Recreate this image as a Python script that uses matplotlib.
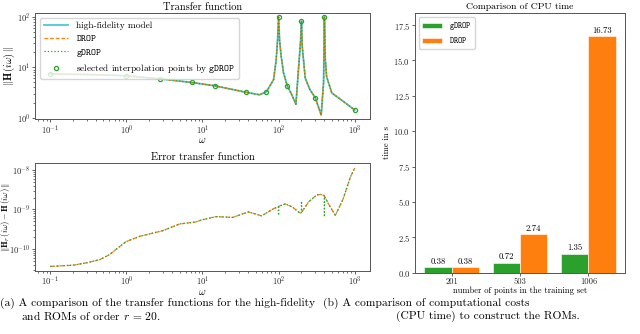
import numpy as np
import matplotlib
matplotlib.use("Agg")
import matplotlib.pyplot as plt

plt.rcParams['font.family'] = ['cmr10', 'DejaVu Serif']
plt.rcParams['mathtext.fontset'] = 'cm'
plt.rcParams['axes.formatter.use_mathtext'] = True
plt.rcParams['axes.unicode_minus'] = False

# transfer function |H(iw)|
tf_omega = [0.1, 0.3, 1, 2.8, 7.2, 14.5, 37, 56, 69, 86, 93, 97, 100, 103, 108,
            116, 130, 150, 169, 185, 195, 200, 205, 224, 258, 303, 363, 390,
            400, 410, 427, 500, 710, 1000]
tf_mag = [7.4, 7.2, 6.8, 5.9, 5.0, 4.3, 3.2, 2.85, 3.25, 5.7, 14, 35, 100, 35, 17,
          7.8, 4.3, 2.8, 1.85, 12, 35, 82, 25, 6.1, 3.6, 2.5, 1.13, 5,
          100, 15, 6.6, 3.1, 2.1, 1.42]

# interpolation points selected by gDROP
pts_omega = [0.1, 1, 2.8, 7.2, 14.5, 37, 69, 100, 130, 200, 303, 400, 1000]
pts_mag = [7.4, 6.8, 5.9, 5.0, 4.3, 3.2, 3.25, 100, 4.3, 82, 2.5, 100, 1.42]

# error transfer function
err_omega = [0.1, 0.2, 0.3, 0.45, 0.6, 0.8, 1, 1.5, 2, 3, 5, 8, 10, 15, 25, 40,
             60, 86, 99, 100, 101, 122, 150, 192, 199, 200, 201, 250, 318, 360,
             398, 400, 402, 450, 556, 700, 875, 1000]
err_drop = [3.63e-11, 3.9e-11, 4.47e-11, 5.4e-11, 7.2e-11, 1.12e-10, 1.55e-10,
            2.1e-10, 2.4e-10, 2.9e-10, 4.3e-10, 4.8e-10, 5.5e-10, 6.6e-10,
            6.3e-10, 8.7e-10, 6.9e-10, 1.05e-9, 1.17e-9, 1.2e-9, 1.21e-9,
            1.38e-9, 1.17e-9, 8.1e-10, 8.4e-10, 8.5e-10, 8.6e-10, 1.58e-9,
            2.34e-9, 2.4e-9, 2.25e-9, 2.19e-9, 2.15e-9, 1.41e-9, 7.1e-10,
            1.78e-9, 6.5e-9, 1.12e-8]
err_gdrop = [3.63e-11, 3.9e-11, 4.47e-11, 5.4e-11, 7.2e-11, 1.12e-10, 1.55e-10,
             2.1e-10, 2.4e-10, 2.9e-10, 4.3e-10, 4.8e-10, 5.5e-10, 6.6e-10,
             6.3e-10, 8.7e-10, 6.9e-10, 1.05e-9, 1.17e-9, 7.1e-10, 1.21e-9,
             1.38e-9, 1.17e-9, 8.1e-10, 8.4e-10, 1.62e-9, 8.6e-10, 1.58e-9,
             2.34e-9, 2.4e-9, 2.25e-9, 6.5e-10, 2.15e-9, 1.41e-9, 7.1e-10,
             1.78e-9, 6.5e-9, 1.12e-8]

# CPU times
n_points = ['201', '503', '1006']
t_gdrop = [0.38, 0.72, 1.35]
t_drop = [0.38, 2.74, 16.73]

spine_c = '#555555'
fs_tick = 6.1
fs_title = 7.5


def style_axes(ax):
    for s in ax.spines.values():
        s.set_color(spine_c)
        s.set_linewidth(0.7)
    ax.tick_params(labelsize=fs_tick, length=2, width=0.5, colors='#222222', pad=1.2)
    ax.tick_params(which='minor', length=1.2, width=0.4)


fig = plt.figure(figsize=(6.4, 3.34), dpi=100)
ax1 = fig.add_axes([0.0547, 0.643, 0.5233, 0.318])
ax2 = fig.add_axes([0.0547, 0.189, 0.5233, 0.323])
ax3 = fig.add_axes([0.648, 0.1835, 0.329, 0.7775])

# transfer function
ax1.loglog(tf_omega, tf_mag, color='#17becf', lw=1.3, alpha=0.8, label='high-fidelity model')
ax1.loglog(tf_omega, tf_mag, color='#ff7f0e', lw=0.9, ls='--', dashes=(3, 1.5), label=r'$\mathtt{DROP}$')
ax1.loglog(tf_omega, tf_mag, color='#2ca02c', lw=0.9, ls=':', label=r'$\mathtt{gDROP}$')
ax1.loglog(pts_omega, pts_mag, ls='none', marker='o', ms=3, mfc='none', mec='#2ca02c', mew=0.9,
           label=r'selected interpolation points by $\mathtt{gDROP}$')
ax1.set_ylim(0.93, 120)
ax1.set_title('Transfer function', fontsize=fs_title, pad=2)
ax1.set_xlabel(r'$\omega$', fontsize=fs_title, labelpad=-0.8)
ax1.set_ylabel(r'$\|\mathbf{H}\,(i\omega)\,\|$', fontsize=fs_title)
ax1.yaxis.set_label_coords(-0.055, 0.5)
ax1.legend(loc='upper left', fontsize=6.8, frameon=True, handlelength=2.6,
           borderpad=0.4, labelspacing=0.35, framealpha=0.8, edgecolor='#cccccc')
style_axes(ax1)

# error transfer function
ax2.loglog(err_omega, err_drop, color='#ff7f0e', lw=0.9, ls='--', dashes=(3, 1.5))
ax2.loglog(err_omega, err_gdrop, color='#2ca02c', lw=0.9, ls=':')
ax2.set_ylim(2.8e-11, 1.5e-8)
ax2.set_title('Error transfer function', fontsize=fs_title, pad=2)
ax2.set_xlabel(r'$\omega$', fontsize=fs_title, labelpad=-0.8)
ax2.set_ylabel(r'$\|\mathbf{H}_r\,(i\omega)-\mathbf{H}\,(i\omega)\,\|$', fontsize=6.2)
ax2.yaxis.set_label_coords(-0.07, 0.5)
style_axes(ax2)

# CPU time bars
x = np.arange(len(n_points))
w = 0.4
b1 = ax3.bar(x - w / 2, t_gdrop, w, color='#2ca02c', edgecolor='white', lw=0.4, label=r'$\mathtt{gDROP}$')
b2 = ax3.bar(x + w / 2, t_drop, w, color='#ff7f0e', edgecolor='white', lw=0.4, label=r'$\mathtt{DROP}$')
ax3.bar_label(b1, fmt='%.2f', fontsize=6.3, padding=1)
ax3.bar_label(b2, fmt='%.2f', fontsize=6.3, padding=1)
ax3.set_xticks(x)
ax3.set_xticklabels(n_points)
ax3.set_ylim(0, 18.35)
ax3.set_yticks(np.arange(0, 17.6, 2.5))
ax3.set_title('Comparison of CPU time', fontsize=fs_title - 0.5, pad=3)
ax3.set_xlabel('number of points in the training set', fontsize=fs_tick, labelpad=1)
ax3.set_ylabel('time in s', fontsize=fs_tick, labelpad=2)
ax3.legend(loc='upper left', fontsize=5.8, handlelength=2.5, borderpad=0.4,
           labelspacing=0.4, framealpha=0.8, edgecolor='#cccccc')
style_axes(ax3)

# captions
cap = 8.3
fig.text(0.0, 1 - 303 / 334, '(a) A comparison of the transfer functions for the high-fidelity',
         fontsize=cap, va='center', ha='left')
fig.text(20.7 / 640, 1 - 316 / 334, r'and ROMs of order $r$ = 20.', fontsize=cap, va='center', ha='left')
fig.text(322.7 / 640, 1 - 303 / 334, '(b) A comparison of computational costs',
         fontsize=cap, va='center', ha='left')
fig.text(396 / 640, 1 - 316 / 334, '(CPU time) to construct the ROMs.', fontsize=cap, va='center', ha='left')

fig.savefig('out.png', dpi=100)
